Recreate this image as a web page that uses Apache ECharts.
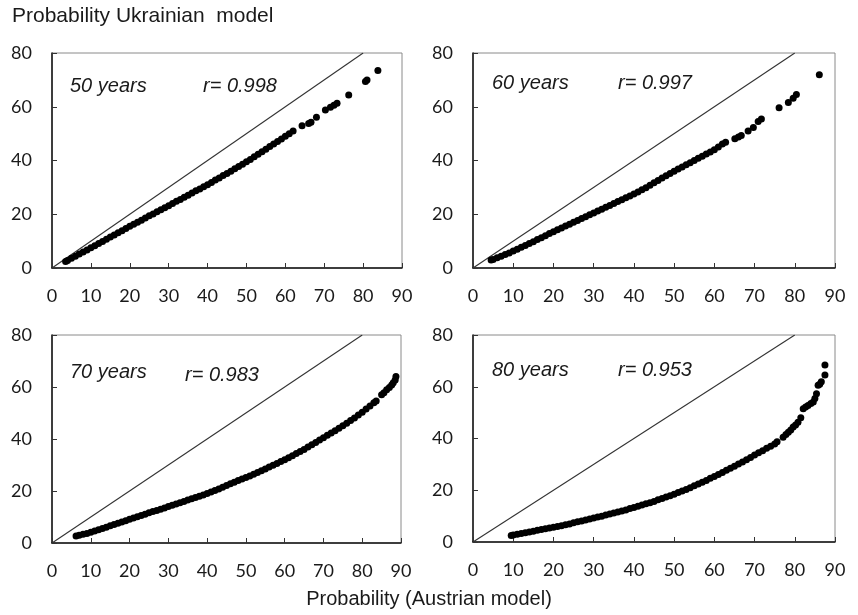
<!DOCTYPE html>
<html>
<head>
<meta charset="utf-8">
<script src="https://cdn.jsdelivr.net/npm/echarts@6/dist/echarts.min.js"></script>
<style>html,body{margin:0;padding:0;background:#fff}#c{width:858px;height:615px}</style>
</head>
<body>
<div id="c"></div>
<script>
// ---- data ----
var xTicks = [0,10,20,30,40,50,60,70,80,90];
var yTicks = [0,20,40,60,80];
var panelLabels = ['50 years','60 years','70 years','80 years'];
var rLabels = ['r= 0.998','r= 0.997','r= 0.983','r= 0.953'];
var diagX = [0, 80];
var diagY = [0, 80];

var p50x = [3.5,4,5,6,7,8,9,10,11,12,13,14,15,16,17,18,19,20,21,22,23,24,25,26,27,28,29,30,31,32,33,34,35,36,37,38,39,40,41,42,43,44,45,46,47,48,49,50,51,52,53,54,55,56,57,58,59,60,61,62,64.3,66,66.6,68,70.3,71.6,72.5,73.3,76.3,80.6,81,83.8];
var p50y = [2.4,2.8,3.6,4.4,5.2,6.0,6.7,7.5,8.3,9.1,9.9,10.7,11.5,12.3,13.1,13.9,14.7,15.5,16.3,17.0,17.8,18.6,19.4,20.1,20.9,21.7,22.4,23.2,24.0,24.8,25.5,26.3,27.1,27.9,28.7,29.4,30.2,31.0,31.8,32.7,33.5,34.4,35.2,36.0,36.9,37.8,38.6,39.5,40.4,41.4,42.3,43.3,44.2,45.2,46.1,47.1,48.0,49.0,50.0,51.0,52.9,53.8,54.2,56.1,58.8,59.8,60.6,61.3,64.4,69.4,70.0,73.5];

var p60x = [4.5,5,6,7,8,9,10,11,12,13,14,15,16,17,18,19,20,21,22,23,24,25,26,27,28,29,30,31,32,33,34,35,36,37,38,39,40,41,42,43,44,45,46,47,48,49,50,51,52,53,54,55,56,57,58,59,60,61,62,62.8,65.1,66,66.7,68.4,69.7,70.9,71.7,76.1,78.4,79.6,80.4,86.1];
var p60y = [3.0,3.2,3.8,4.4,5.0,5.6,6.3,7.0,7.7,8.4,9.1,9.8,10.6,11.3,12.0,12.8,13.5,14.2,14.9,15.6,16.3,17.0,17.7,18.4,19.1,19.8,20.5,21.2,21.9,22.6,23.3,24.0,24.7,25.4,26.1,26.8,27.5,28.3,29.1,29.9,30.8,31.7,32.6,33.5,34.3,35.2,36.0,36.8,37.6,38.4,39.2,40.0,40.8,41.6,42.4,43.2,44.0,45.0,46.1,46.8,48.1,48.7,49.3,51.0,52.3,54.5,55.4,59.6,61.6,63.2,64.6,71.9];

var p70x = [6.2,7,8,9,10,11,12,13,14,15,16,17,18,19,20,21,22,23,24,25,26,27,28,29,30,31,32,33,34,35,36,37,38,39,40,41,42,43,44,45,46,47,48,49,50,51,52,53,54,55,56,57,58,59,60,61,62,63,64,65,66,67,68,69,70,71,72,73,74,75,76,77,78,79,80,81,82,83,83.6,85,85.6,86.3,87,87.6,88,88.5,88.7];
var p70y = [2.7,3.0,3.4,3.7,4.1,4.6,5.1,5.6,6.1,6.6,7.1,7.6,8.1,8.6,9.1,9.6,10.1,10.6,11.1,11.6,12.1,12.5,13.0,13.5,14.0,14.5,15.0,15.5,16.0,16.5,17.0,17.5,18.0,18.5,19.0,19.6,20.2,20.8,21.4,22.1,22.8,23.4,24.0,24.6,25.2,25.8,26.4,27.1,27.8,28.5,29.2,29.9,30.6,31.3,32.0,32.8,33.6,34.4,35.2,36.0,36.9,37.8,38.7,39.6,40.5,41.4,42.3,43.2,44.1,45.1,46.1,47.1,48.1,49.2,50.3,51.5,52.7,53.9,54.6,57.0,57.8,58.9,59.8,60.8,61.6,62.7,64.0];

var p80x = [9.5,10,11,12,13,14,15,16,17,18,19,20,21,22,23,24,25,26,27,28,29,30,31,32,33,34,35,36,37,38,39,40,41,42,43,44,45,46,47,48,49,50,51,52,53,54,55,56,57,58,59,60,61,62,63,64,65,66,67,68,69,70,71,72,73,74,75,75.6,77.1,77.8,78.4,79,79.6,80.2,80.8,81.5,82.1,82.7,83.3,84,84.6,85,85.4,85.8,86.2,86.6,87.5,87.5];
var p80y = [2.5,2.7,3.0,3.3,3.6,3.9,4.2,4.5,4.8,5.1,5.4,5.7,6.0,6.3,6.7,7.0,7.4,7.8,8.1,8.5,8.9,9.3,9.7,10.0,10.4,10.8,11.2,11.6,12.0,12.4,12.9,13.3,13.8,14.3,14.8,15.2,15.7,16.3,16.8,17.4,17.9,18.5,19.1,19.7,20.3,21.0,21.7,22.4,23.1,23.8,24.6,25.3,26.1,26.9,27.7,28.5,29.3,30.1,30.9,31.8,32.7,33.6,34.5,35.3,36.2,37.0,37.9,38.7,40.5,41.5,42.4,43.3,44.4,45.2,46.3,48.0,51.5,52.2,52.8,53.5,54.1,55.5,57.3,60.6,61.0,61.9,64.5,68.4];

// ---- build chart ----
function pairs(xs, ys){ return xs.map(function(v,i){ return [v, ys[i]]; }); }
var panels = [[p50x,p50y],[p60x,p60y],[p70x,p70y],[p80x,p80y]];
var grids = [
  {left:52, top:53, width:350, height:215},
  {left:473, top:53, width:362, height:215},
  {left:52, top:335, width:349, height:208},
  {left:473, top:335, width:362, height:207}
];
var fontNum = 'Lato, "Open Sans", sans-serif';
var fontTxt = '"Liberation Sans", Arial, sans-serif';
var xAxes = [], yAxes = [], series = [], gridOpts = [];
grids.forEach(function(g, i){
  gridOpts.push(Object.assign({show:true, borderColor:'#8a8a8a', borderWidth:1, containLabel:false}, g));
  xAxes.push({type:'value', gridIndex:i, min:xTicks[0], max:xTicks[xTicks.length-1], interval:10,
    axisLine:{show:true, onZero:false, lineStyle:{color:'#111', width:1.5}},
    axisTick:{show:true, inside:true, length:5, lineStyle:{color:'#333'}},
    axisLabel:{color:'#1a1a1a', fontSize:18, fontFamily:fontNum, margin:19},
    splitLine:{show:false}});
  yAxes.push({type:'value', gridIndex:i, min:yTicks[0], max:yTicks[yTicks.length-1], interval:20,
    axisLine:{show:true, onZero:false, lineStyle:{color:'#111', width:1.5}},
    axisTick:{show:true, inside:true, length:5, lineStyle:{color:'#333'}},
    axisLabel:{color:'#1a1a1a', fontSize:18, fontFamily:fontNum, margin:20},
    splitLine:{show:false}});
  series.push({type:'line', xAxisIndex:i, yAxisIndex:i, data:pairs(diagX, diagY), symbol:'none',
    lineStyle:{color:'#333', width:1.1}, silent:true, z:1});
  series.push({type:'scatter', xAxisIndex:i, yAxisIndex:i, data:pairs(panels[i][0], panels[i][1]),
    symbol:'circle', symbolSize:7, itemStyle:{color:'#000', opacity:1}, silent:true, z:2});
});

var annPos = [[70,86],[492,83],[70,372],[492,370]];
var rPos = [[203,86],[618,83],[185,375],[618,370]];
var graphics = [
  {type:'text', left:12, top:6, style:{text:'Probability Ukrainian  model', fontSize:21, fontFamily:fontTxt, fill:'#1a1a1a'}},
  {type:'text', left:'center', top:589, style:{text:'Probability (Austrian model)', fontSize:20, fontFamily:fontTxt, fill:'#1a1a1a'}}
];
for (var k=0;k<4;k++){
  graphics.push({type:'text', x:annPos[k][0], y:annPos[k][1], style:{text:panelLabels[k], fontSize:20, fontStyle:'italic', fontFamily:fontTxt, fill:'#1a1a1a', verticalAlign:'middle'}});
  graphics.push({type:'text', x:rPos[k][0], y:rPos[k][1], style:{text:rLabels[k], fontSize:20, fontStyle:'italic', fontFamily:fontTxt, fill:'#1a1a1a', verticalAlign:'middle'}});
}

var chart = echarts.init(document.getElementById('c'), null, {renderer:'canvas'});
chart.setOption({
  animation:false,
  backgroundColor:'#fff',
  grid:gridOpts, xAxis:xAxes, yAxis:yAxes, series:series, graphic:graphics
});
</script>
</body>
</html>
